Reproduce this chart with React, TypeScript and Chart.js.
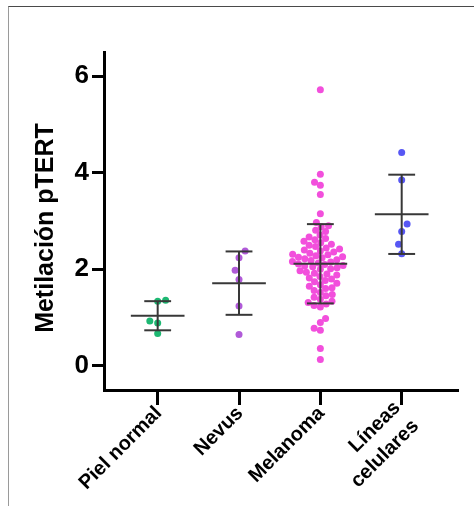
import { useEffect, useRef } from 'react';
import { Chart, registerables } from 'chart.js';

Chart.register(...registerables);

// Groups along the x axis
const categories: string[][] = [['Piel normal'], ['Nevus'], ['Melanoma'], ['Líneas', 'celulares']];

// Methylation values per group
const pielNormal = [1.36, 1.34, 0.93, 0.89, 0.67];
const nevus = [2.38, 2.24, 1.98, 1.79, 1.24, 0.65];
const melanoma = [
  5.72, 3.97, 3.8, 3.74, 3.55, 3.15,
  2.97, 2.9, 2.88, 2.81, 2.78, 2.71, 2.67, 2.64, 2.61,
  2.58, 2.55, 2.52, 2.5, 2.47, 2.44, 2.42, 2.4, 2.38, 2.36, 2.33, 2.31, 2.3,
  2.28, 2.26, 2.25, 2.24, 2.22, 2.2, 2.18, 2.16, 2.15, 2.13, 2.11, 2.1,
  2.08, 2.07, 2.05, 2.03, 2.01, 2.0, 1.97, 1.94, 1.92, 1.9, 1.88, 1.85, 1.82, 1.8,
  1.77, 1.74, 1.71, 1.68, 1.65, 1.62, 1.6, 1.56, 1.52, 1.48, 1.45, 1.42,
  1.38, 1.34, 1.31, 1.28, 1.25, 1.22,
  0.98, 0.9, 0.78, 0.74, 0.36, 0.13,
];
const lineasCelulares = [4.42, 3.85, 2.94, 2.78, 2.52, 2.32];

const groups = [pielNormal, nevus, melanoma, lineasCelulares];
const groupColors = ['#1db872', '#b05ad8', '#f24fdc', '#5757f4'];

const yTicks = [0, 2, 4, 6];
const yTitle = 'Metilación pTERT';

const FONT = "'Liberation Sans', Arial, Helvetica, sans-serif";
const W = 474;
const H = 506;
const AREA = { left: 104, top: 52, right: 457, bottom: 390 };
const X_RANGE = { min: -0.66, max: 3.68 };
const Y_RANGE = { min: -0.5, max: 6.5 };
const X_TICK_LEN = 15;
const MEAN_HALF = 0.33;
const CAP_HALF = 0.165;
const DOT_RADIUS = 3.5;
// Swarm spacing (px): roomy elliptical spacing for sparse columns, tight circles for dense ones
const SPARSE_DX = 8;
const SPARSE_DY = 10.5;
const DENSE_D = 6.5;
const SWARM_MAX_HALF = 23;

const mean = (v: number[]) => v.reduce((a, b) => a + b, 0) / v.length;
const sd = (v: number[]) => {
  const m = mean(v);
  return Math.sqrt(v.reduce((a, b) => a + (b - m) ** 2, 0) / (v.length - 1));
};

// One swarm pass with an elliptical keep-out zone of a (horizontal) by b (vertical) pixels
function swarmPass(values: number[], pxY: number, a: number, b: number): number[] {
  const order = values.map((_, i) => i).sort((p, q) => values[p] - values[q]);
  const placed: { x: number; y: number }[] = [];
  const out = new Array(values.length).fill(0);
  let side = 1;
  const clash = (x: number, y: number) =>
    placed.some((p) => ((p.x - x) / a) ** 2 + ((p.y - y) / b) ** 2 < 1 - 1e-6);
  for (const i of order) {
    const y = values[i] * pxY;
    const cands = [0];
    for (const p of placed) {
      const dy = Math.abs(p.y - y);
      if (dy < b) {
        const dx = a * Math.sqrt(1 - (dy / b) ** 2);
        cands.push(p.x + dx, p.x - dx);
      }
    }
    const ok = cands.filter((c) => !clash(c, y));
    ok.sort((p, q) => Math.abs(p) - Math.abs(q) || (p - q) * side);
    const x = ok[0];
    if (x !== 0) side = -side;
    placed.push({ x, y });
    out[i] = x;
  }
  return out;
}

// Horizontal offsets (x units) for one column of dots
function swarmOffsets(values: number[]): number[] {
  const pxX = (AREA.right - AREA.left) / (X_RANGE.max - X_RANGE.min);
  const pxY = (AREA.bottom - AREA.top) / (Y_RANGE.max - Y_RANGE.min);
  let xs = swarmPass(values, pxY, SPARSE_DX, SPARSE_DY);
  if (Math.max(...xs.map(Math.abs)) > SWARM_MAX_HALF) {
    xs = swarmPass(values, pxY, DENSE_D, DENSE_D);
  }
  return xs.map((x) => x / pxX);
}

const meanSdPlugin = {
  id: 'meanSd',
  afterDatasetsDraw(chart: any) {
    const { ctx, scales } = chart;
    const xs = scales.x;
    const ys = scales.y;
    ctx.save();
    ctx.strokeStyle = '#383838';
    ctx.lineWidth = 2;
    ctx.lineCap = 'butt';
    const seg = (x0: number, y0: number, x1: number, y1: number) => {
      ctx.beginPath();
      ctx.moveTo(xs.getPixelForValue(x0), ys.getPixelForValue(y0));
      ctx.lineTo(xs.getPixelForValue(x1), ys.getPixelForValue(y1));
      ctx.stroke();
    };
    groups.forEach((vals, gi) => {
      const m = mean(vals);
      const s = sd(vals);
      seg(gi, m - s, gi, m + s);
      seg(gi - MEAN_HALF, m, gi + MEAN_HALF, m);
      seg(gi - CAP_HALF, m + s, gi + CAP_HALF, m + s);
      seg(gi - CAP_HALF, m - s, gi + CAP_HALF, m - s);
    });
    ctx.restore();
  },
};

// Rotated category labels under the x axis; multi-line labels are right aligned
const xLabelsPlugin = {
  id: 'xLabels',
  afterDraw(chart: any) {
    const { ctx, scales } = chart;
    const xs = scales.x;
    const lh = 26;
    ctx.save();
    ctx.fillStyle = '#000';
    ctx.font = `bold 20px ${FONT}`;
    ctx.textAlign = 'right';
    ctx.textBaseline = 'middle';
    categories.forEach((lines, i) => {
      ctx.save();
      ctx.translate(xs.getPixelForValue(i), xs.top);
      ctx.rotate(-Math.PI / 4);
      lines.forEach((line, k) => {
        ctx.fillText(line, -13.5, 15 + k * lh - (lines.length - 1) * lh * 0.3);
      });
      ctx.restore();
    });
    ctx.restore();
  },
};

const yTitlePlugin = {
  id: 'yTitle',
  afterDraw(chart: any) {
    const { ctx } = chart;
    ctx.save();
    ctx.translate(46, 228);
    ctx.rotate(-Math.PI / 2);
    ctx.fillStyle = '#000';
    ctx.font = `bold 25px ${FONT}`;
    ctx.textAlign = 'center';
    ctx.textBaseline = 'middle';
    ctx.fillText(yTitle, 0, 0);
    ctx.restore();
  },
};

export default function App() {
  const ref = useRef<HTMLCanvasElement | null>(null);

  useEffect(() => {
    if (!ref.current) return;
    const datasets = groups.map((vals, gi) => {
      const offs = swarmOffsets(vals);
      return {
        label: categories[gi].join(' '),
        data: vals.map((v, i) => ({ x: gi + offs[i], y: v })),
        backgroundColor: groupColors[gi],
        borderWidth: 0,
        pointRadius: DOT_RADIUS,
        pointHoverRadius: DOT_RADIUS,
      };
    });

    const chart = new Chart(ref.current, {
      type: 'scatter',
      data: { datasets },
      options: {
        animation: false,
        responsive: false,
        devicePixelRatio: 1,
        layout: { padding: { left: 0, top: AREA.top, right: W - AREA.right, bottom: 0 } },
        plugins: { legend: { display: false }, tooltip: { enabled: false }, title: { display: false } },
        scales: {
          x: {
            type: 'linear',
            min: X_RANGE.min,
            max: X_RANGE.max,
            afterBuildTicks: (s: any) => {
              s.ticks = categories.map((_, i) => ({ value: i }));
            },
            afterFit: (s: any) => {
              s.height = H - AREA.bottom;
            },
            grid: { drawOnChartArea: false, drawTicks: true, tickLength: X_TICK_LEN, tickWidth: 3, tickColor: '#000', color: '#000', lineWidth: 3 },
            border: { display: true, color: '#000', width: 3 },
            ticks: { display: false, autoSkip: false },
          },
          y: {
            type: 'linear',
            min: Y_RANGE.min,
            max: Y_RANGE.max,
            afterBuildTicks: (s: any) => {
              s.ticks = yTicks.map((v) => ({ value: v }));
            },
            afterFit: (s: any) => {
              s.width = AREA.left;
            },
            grid: { drawOnChartArea: false, drawTicks: true, tickLength: 12, tickWidth: 3, tickColor: '#000', color: '#000', lineWidth: 3 },
            border: { display: true, color: '#000', width: 3 },
            ticks: {
              padding: 3,
              color: '#000',
              font: { family: FONT, size: 26, weight: 'bold' },
              callback: (v: any) => String(v),
            },
          },
        },
      } as any,
      plugins: [meanSdPlugin, xLabelsPlugin, yTitlePlugin],
    });
    return () => chart.destroy();
  }, []);

  return (
    <div style={{ position: 'fixed', left: 0, top: 0, width: W, height: H, background: '#fff' }}>
      <div
        style={{
          position: 'absolute',
          left: 8,
          top: 6,
          width: W,
          height: H,
          borderTop: '1.5px solid #4a4a4a',
          borderLeft: '1.5px solid #9a9a9a',
        }}
      />
      <canvas ref={ref} width={W} height={H} style={{ position: 'absolute', left: 0, top: 0 }} />
    </div>
  );
}
